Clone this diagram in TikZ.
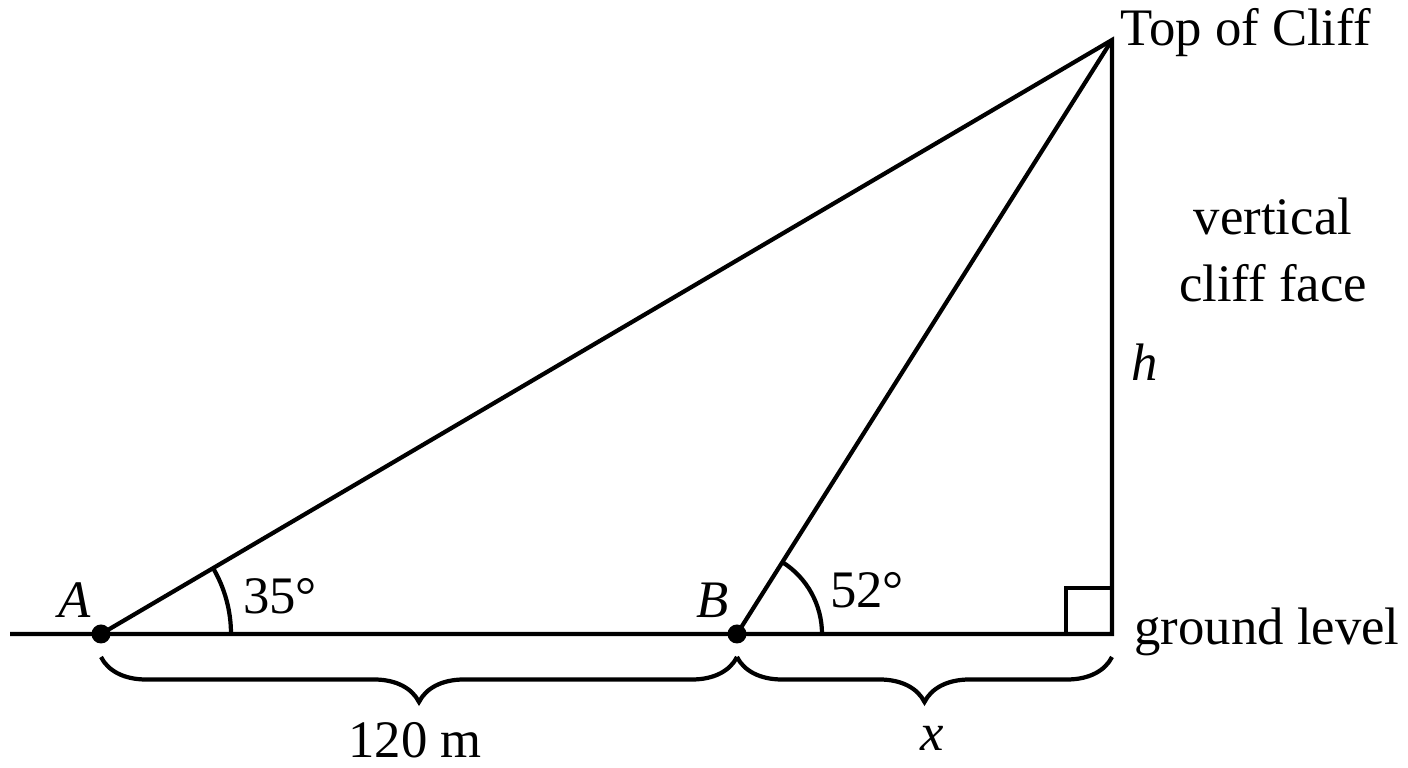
\documentclass[tikz,border=0pt]{standalone}
\usepackage{fontspec}
\setmainfont{Liberation Serif}
\usetikzlibrary{decorations.pathreplacing,calc}
\tikzset{lbl/.style={font=\fontsize{15}{18}\selectfont,inner sep=1pt},
	brc/.style={decorate,decoration={brace,mirror,amplitude=0.45cm}}}

\begin{document}
\begin{tikzpicture}[line width=1.2pt]
	\useasboundingbox (0,0) rectangle (14.08,7.68);
	\coordinate (A) at (1.01,1.34);
	\coordinate (B) at (7.37,1.34);
	\coordinate (C) at (11.12,1.34);
	\coordinate (T) at (11.12,7.28);
	\coordinate (W) at (0.10,1.34);
	\draw (W) -- (C) -- (T) -- (A);
	\draw (B) -- (T);
%	right angle and the two angle arcs
	\draw ($(C)+(-0.46,0)$) |- ($(C)+(0,0.46)$);
	\draw ($(A)+(1.30,0)$) arc (0:30.44:1.30);
	\draw ($(B)+(0.85,0)$) arc (0:57.73:0.85);
	\foreach \p in {A,B}{
		\fill (\p) circle (0.095);}
	\draw[brc] ($(A)+(0,-0.23)$) -- ($(B)+(0,-0.23)$);
	\draw[brc] ($(B)+(0,-0.23)$) -- ($(C)+(0,-0.23)$);
	\node[lbl] (lA) at (0.75,1.68) {\textit{A}};
	\node[lbl] (lB) at (7.13,1.68) {\textit{B}};
	\node[lbl] (a35) at (2.80,1.72) {35°};
	\node[lbl] (a52) at (8.67,1.78) {52°};
	\node[lbl,anchor=base west] (top) at (11.15,7.22) {Top of Cliff};
	\node[lbl,align=center] (face) at (12.73,5.18) {vertical\\[1pt]cliff face};
	\node[lbl] (h) at (11.45,4.06) {\textit{h}};
	\node[lbl,anchor=base west] (gl) at (11.29,1.23) {ground level};
	\node[lbl] (d1) at (4.15,0.28) {120 m};
	\node[lbl] (d2) at (9.32,0.30) {\textit{x}};
\end{tikzpicture}
\end{document}
